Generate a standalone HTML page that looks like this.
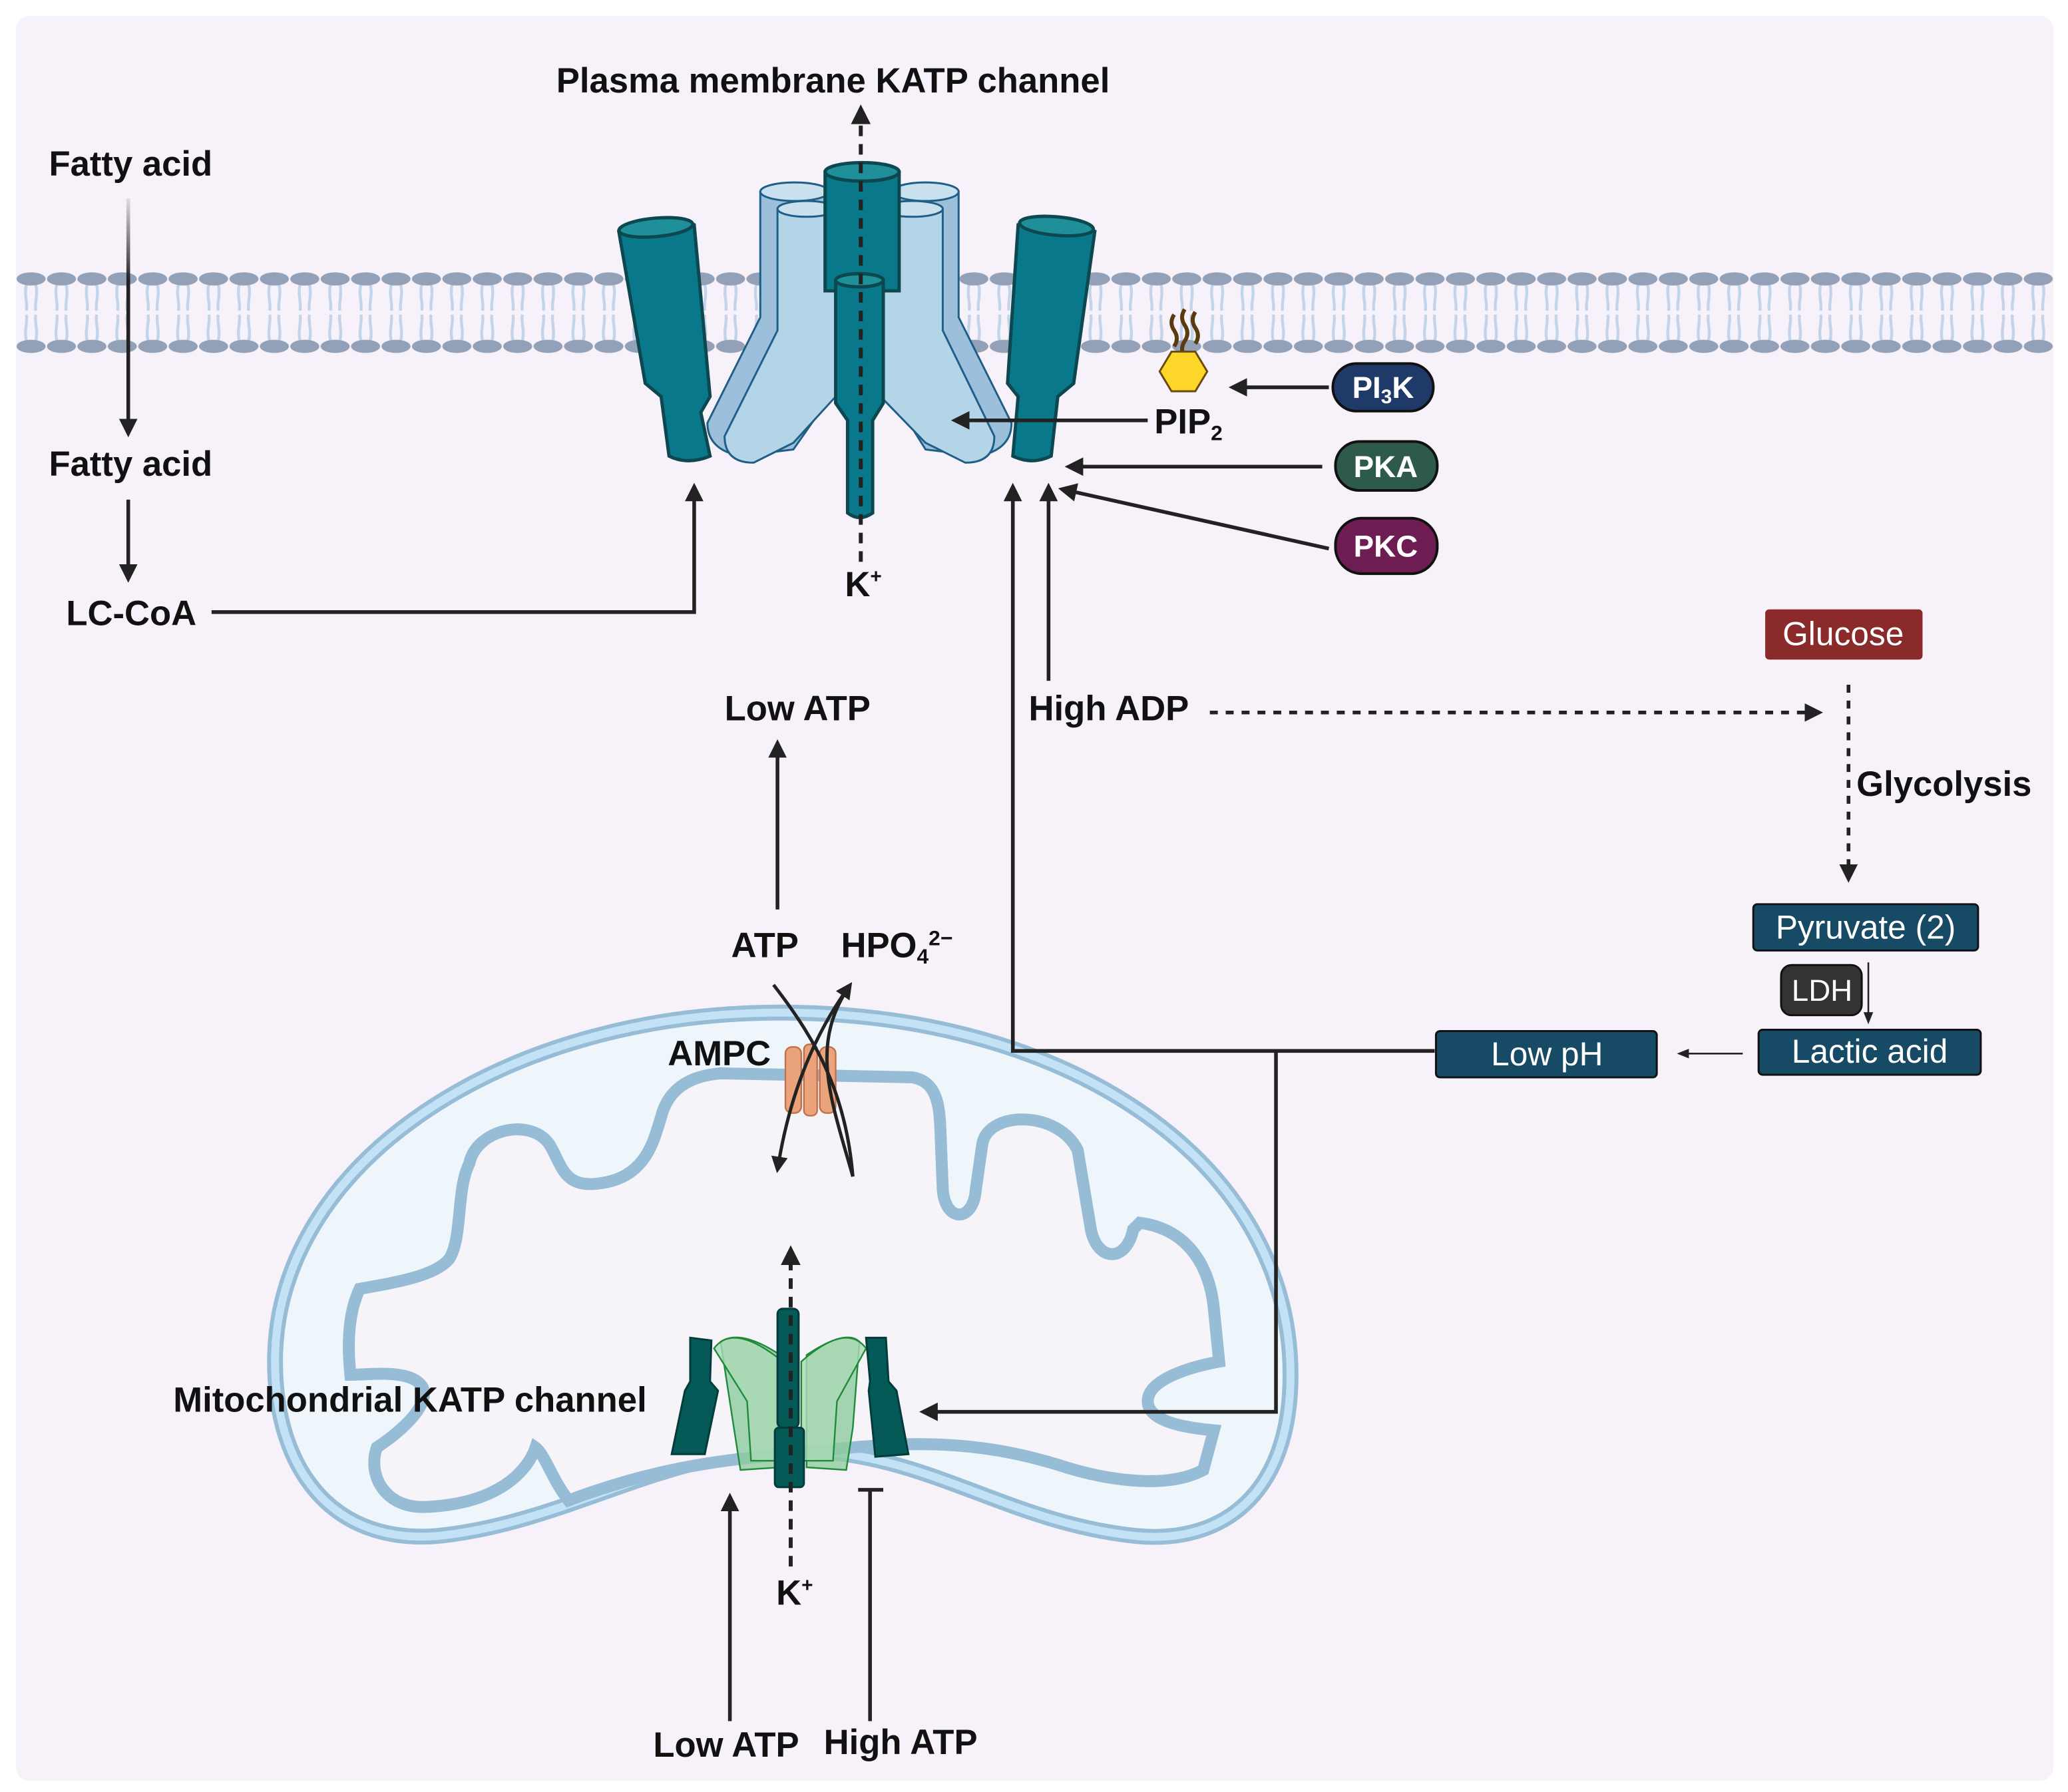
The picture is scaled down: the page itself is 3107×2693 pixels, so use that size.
<!DOCTYPE html>
<html><head><meta charset="utf-8"><style>
html,body{margin:0;padding:0;background:#fff}
svg{display:block}
text{font-family:"Liberation Sans",Arial,sans-serif;font-weight:bold;fill:#111}
.w{fill:#fff;font-weight:normal}
</style></head><body>
<svg width="3107" height="2693" viewBox="0 0 1564 1355.6" preserveAspectRatio="none" xmlns="http://www.w3.org/2000/svg">
<defs>
<pattern id="mem" x="12" y="203" width="23" height="67" patternUnits="userSpaceOnUse">
<path d="M8 12 C6 20 9 26 8 32 M15 12 C17 20 14 26 15 32 M8 55 C6 47 9 41 8 35 M15 55 C17 47 14 41 15 35" stroke="#c3d4ea" stroke-width="2.2" fill="none"/>
<ellipse cx="11.5" cy="8" rx="11" ry="5" fill="#93a1b8"/>
<ellipse cx="11.5" cy="59" rx="11" ry="5" fill="#93a1b8"/>
</pattern>
<marker id="ah" viewBox="0 0 10 10" refX="8" refY="5" markerWidth="5" markerHeight="5" orient="auto-start-reverse"><path d="M0 0 L10 5 L0 10 Z" fill="#222"/></marker>
<marker id="ahs" viewBox="0 0 10 10" refX="8" refY="5" markerWidth="7" markerHeight="7" orient="auto-start-reverse"><path d="M0 1 L10 5 L0 9 Z" fill="#222"/></marker>
<linearGradient id="fade" gradientUnits="userSpaceOnUse" x1="0" y1="150" x2="0" y2="330"><stop offset="0" stop-color="#222" stop-opacity="0.1"/><stop offset="0.35" stop-color="#222"/></linearGradient>
</defs>
<rect x="12" y="12" width="1541" height="1335" rx="10" fill="#f7f2f9"/>
<rect x="12" y="203" width="1541" height="67" fill="url(#mem)"/>

<!-- plasma channel -->
<g stroke="#1f5e86" stroke-width="1.5">
<path d="M575 145 Q600 135 628 145 L628 300 L600 340 L560 345 Q535 340 535 320 L575 240 Z" fill="#9cc0dc"/>
<path d="M675 145 Q700 135 725 145 L725 240 L765 320 Q765 340 740 345 L700 340 L675 300 Z" fill="#9cc0dc"/>
<ellipse cx="601" cy="145" rx="26" ry="7" fill="#c9e0ee"/>
<ellipse cx="700" cy="145" rx="25" ry="7" fill="#c9e0ee"/>
<path d="M588 158 Q610 148 632 158 L632 300 L600 335 L570 350 Q548 350 548 330 L588 250 Z" fill="#b4d4e8"/>
<path d="M666 158 Q690 148 713 158 L713 250 L752 330 Q752 350 730 350 L700 335 L666 300 Z" fill="#b4d4e8"/>
<ellipse cx="610" cy="158" rx="22" ry="6" fill="#c9e0ee"/>
<ellipse cx="690" cy="158" rx="23" ry="6" fill="#c9e0ee"/>
</g>
<g stroke="#0d4750" stroke-width="2.5" fill="#08788a">
<path d="M624 130 Q652 120 680 130 L680 220 L624 220 Z"/>
<ellipse cx="652" cy="130" rx="28" ry="7" fill="#1f8f9a"/>
<path d="M468 175 Q495 162 525 170 L537 300 L530 312 L537 345 Q520 352 506 345 L500 300 L488 290 Z"/>
<ellipse cx="496" cy="172" rx="28" ry="7" fill="#1f8f9a" transform="rotate(-5 496 172)"/>
<path d="M770 170 Q800 162 828 175 L812 290 L800 300 L795 345 Q780 352 766 345 L770 300 L762 290 Z"/>
<ellipse cx="799" cy="171" rx="28" ry="7" fill="#1f8f9a" transform="rotate(5 799 171)"/>
<path d="M632 212 Q650 205 668 212 L668 305 L660 318 L660 388 Q650 395 641 388 L641 318 L632 305 Z"/>
<ellipse cx="650" cy="212" rx="18" ry="5" fill="#1f8f9a"/>
</g>
<line x1="651" y1="425" x2="651" y2="82" stroke="#222" stroke-width="3" stroke-dasharray="8 6" marker-end="url(#ah)"/>

<!-- PIP2 -->
<path d="M888 238 q-4 6 0 12 q4 6 0 12 M896 234 q-4 6 0 12 q4 6 0 12 q-4 6 0 12 M904 236 q-4 6 0 12 q4 6 0 12" stroke="#5a3a0f" stroke-width="3" fill="none"/>
<polygon points="886,266 904,266 913,281 904,296 886,296 877,281" fill="#fcd72a" stroke="#6a4a10" stroke-width="1.5"/>

<!-- mitochondrion -->
<path d="M590 766 C810 766 976 880 976 1040 C976 1130 925 1168 860 1162 C760 1152 700 1097 600 1097 C500 1097 430 1152 330 1162 C250 1168 208 1110 208 1030 C208 880 380 766 590 766 Z" fill="#eef6fc" stroke="#97bcd6" stroke-width="12"/>
<path d="M590 766 C810 766 976 880 976 1040 C976 1130 925 1168 860 1162 C760 1152 700 1097 600 1097 C500 1097 430 1152 330 1162 C250 1168 208 1110 208 1030 C208 880 380 766 590 766 Z" fill="none" stroke="#c3e2f6" stroke-width="6"/>
<path id="inner" d="M545 812 L690 815 C708 818 710 835 711 850 L713 900 C715 925 736 925 738 900 L743 865 C748 840 800 840 815 870 L825 930 C830 955 852 955 857 930 L862 925 C900 930 915 960 918 990 L922 1030 C895 1035 868 1045 868 1060 C868 1075 895 1080 918 1082 L910 1112 C880 1128 830 1118 800 1108 C740 1090 690 1088 600 1100 C520 1105 470 1120 430 1135 C418 1120 412 1100 405 1095 C400 1110 380 1138 320 1140 C290 1140 278 1115 285 1095 C300 1085 325 1065 320 1050 C312 1035 280 1040 265 1040 C262 1010 265 990 272 975 C300 970 330 965 340 952 C350 935 345 900 355 880 C360 855 400 845 415 865 C425 880 425 900 455 895 C490 890 495 860 500 845 C505 825 520 814 545 812 Z" fill="#f6f3f9" stroke="#97bcd6" stroke-width="9"/>
<use href="#inner" fill="none" stroke="#c3e2f6" stroke-width="3"/>

<!-- AMPC -->
<g fill="#eba37c" stroke="#c0704a" stroke-width="1.2">
<rect x="594" y="792" width="12" height="50" rx="5"/><rect x="608" y="790" width="10" height="54" rx="4"/><rect x="620" y="792" width="12" height="50" rx="5"/>
</g>
<path d="M585 745 C620 790 640 830 645 890" stroke="#222" stroke-width="2.5" fill="none"/>
<path d="M643 745 C610 790 595 840 588 885" stroke="#222" stroke-width="2.5" fill="none" marker-end="url(#ah)"/>

<!-- mito channel -->
<g stroke="#1f8a3a" stroke-width="1.2" fill="#8fcc9f" fill-opacity="0.8">
<path d="M545 1015 Q560 1005 590 1025 L590 1110 L560 1112 L555 1080 Z"/>
<path d="M650 1015 Q640 1005 610 1025 L610 1110 L640 1112 L645 1080 Z"/>
<path d="M540 1020 Q555 1000 592 1030 L592 1105 L568 1105 L565 1060 Z" fill="#a9d9b5"/>
<path d="M655 1020 Q640 1000 606 1030 L606 1105 L630 1105 L633 1060 Z" fill="#a9d9b5"/>
</g>
<g fill="#055a58" stroke="#033b3a" stroke-width="1.5">
<rect x="588" y="990" width="16" height="90" rx="4"/>
<rect x="586" y="1080" width="22" height="45" rx="3"/>
<path d="M522 1012 L538 1014 L537 1045 L543 1052 L533 1100 L508 1100 L518 1052 L522 1045 Z"/>
<path d="M655 1012 L670 1012 L672 1045 L678 1052 L687 1100 L662 1102 L657 1052 L658 1045 Z"/>
</g>
<line x1="598" y1="1185" x2="598" y2="945" stroke="#222" stroke-width="3" stroke-dasharray="8 6" marker-end="url(#ah)"/>

<!-- arrows -->
<g stroke="#222" stroke-width="2.8" fill="none">
<path d="M97 150 L97.01 328" stroke="url(#fade)" marker-end="url(#ah)"/>
<line x1="97" y1="378" x2="97" y2="438" marker-end="url(#ah)"/>
<polyline points="160,463 525,463 525,368" marker-end="url(#ah)"/>
<line x1="868" y1="318" x2="722" y2="318" marker-end="url(#ah)"/>
<line x1="1005" y1="293" x2="932" y2="293" marker-end="url(#ah)"/>
<line x1="1000" y1="353" x2="808" y2="353" marker-end="url(#ah)"/>
<line x1="1005" y1="415" x2="803" y2="370" marker-end="url(#ah)"/>
<polyline points="1085,795 766,795 766,368" marker-end="url(#ah)"/>
<line x1="793" y1="515" x2="793" y2="368" marker-end="url(#ah)"/>
<polyline points="965,795 965,1068 698,1068" marker-end="url(#ah)"/>
<line x1="588" y1="688" x2="588" y2="562" marker-end="url(#ah)"/>
<line x1="552" y1="1302" x2="552" y2="1132" marker-end="url(#ah)"/>
<line x1="658" y1="1302" x2="658" y2="1127"/><line x1="649" y1="1127" x2="668" y2="1127"/>
<line x1="915" y1="539" x2="1376" y2="539" stroke-dasharray="6 6" marker-end="url(#ah)"/>
<line x1="1398" y1="518" x2="1398" y2="665" stroke-dasharray="6 6" marker-end="url(#ah)"/>
<path d="M645 890 C628 830 612 790 643 745" stroke-width="2.5" marker-end="url(#ah)"/>
</g>
<g stroke="#222" stroke-width="1.3" fill="none">
<line x1="1413" y1="728" x2="1413" y2="773" marker-end="url(#ahs)"/>
<line x1="1318" y1="797" x2="1270" y2="797" marker-end="url(#ahs)"/>
</g>

<!-- boxes -->
<rect x="1008" y="275" width="76" height="36" rx="18" fill="#1f3a68" stroke="#111" stroke-width="2"/>
<text x="1046" y="301" text-anchor="middle" font-size="23" style="fill:#fff">PI<tspan font-size="15" dy="4">3</tspan><tspan dy="-4">K</tspan></text>
<rect x="1010" y="334" width="77" height="37" rx="18" fill="#2e5a4b" stroke="#111" stroke-width="2"/>
<text x="1048" y="361" text-anchor="middle" font-size="23" style="fill:#fff">PKA</text>
<rect x="1010" y="392" width="77" height="42" rx="20" fill="#6e1d52" stroke="#111" stroke-width="2"/>
<text x="1048" y="421" text-anchor="middle" font-size="23" style="fill:#fff">PKC</text>
<rect x="1335" y="461" width="119" height="38" rx="3" fill="#8a2a2a"/>
<text x="1394" y="488" text-anchor="middle" font-size="25" class="w">Glucose</text>
<rect x="1326" y="684" width="170" height="35" rx="3" fill="#174a64" stroke="#111" stroke-width="1.5"/>
<text x="1411" y="710" text-anchor="middle" font-size="25" class="w">Pyruvate (2)</text>
<rect x="1347" y="730" width="61" height="38" rx="8" fill="#333" stroke="#111" stroke-width="1.5"/>
<text x="1378" y="757" text-anchor="middle" font-size="23" class="w">LDH</text>
<rect x="1330" y="779" width="168" height="34" rx="3" fill="#174a64" stroke="#111" stroke-width="1.5"/>
<text x="1414" y="804" text-anchor="middle" font-size="25" class="w">Lactic acid</text>
<rect x="1086" y="780" width="167" height="35" rx="3" fill="#174a64" stroke="#111" stroke-width="1.5"/>
<text x="1170" y="806" text-anchor="middle" font-size="25" class="w">Low pH</text>

<!-- labels -->
<g font-size="26.5">
<text x="630" y="70" text-anchor="middle">Plasma membrane KATP channel</text>
<text x="37" y="133">Fatty acid</text>
<text x="37" y="360">Fatty acid</text>
<text x="50" y="473">LC-CoA</text>
<text x="639" y="451">K<tspan font-size="15" dy="-10">+</tspan></text>
<text x="873" y="328">PIP<tspan font-size="16" dy="5">2</tspan></text>
<text x="1404" y="602">Glycolysis</text>
<text x="778" y="545">High ADP</text>
<text x="548" y="545">Low ATP</text>
<text x="553" y="724">ATP</text>
<text x="636" y="724">HPO<tspan font-size="16" dy="5">4</tspan><tspan font-size="16" dy="-14">2−</tspan></text>
<text x="505" y="806">AMPC</text>
<text x="131" y="1068">Mitochondrial KATP channel</text>
<text x="587" y="1214">K<tspan font-size="15" dy="-10">+</tspan></text>
<text x="494" y="1329">Low ATP</text>
<text x="623" y="1327">High ATP</text>
</g>
</svg>
</body></html>
